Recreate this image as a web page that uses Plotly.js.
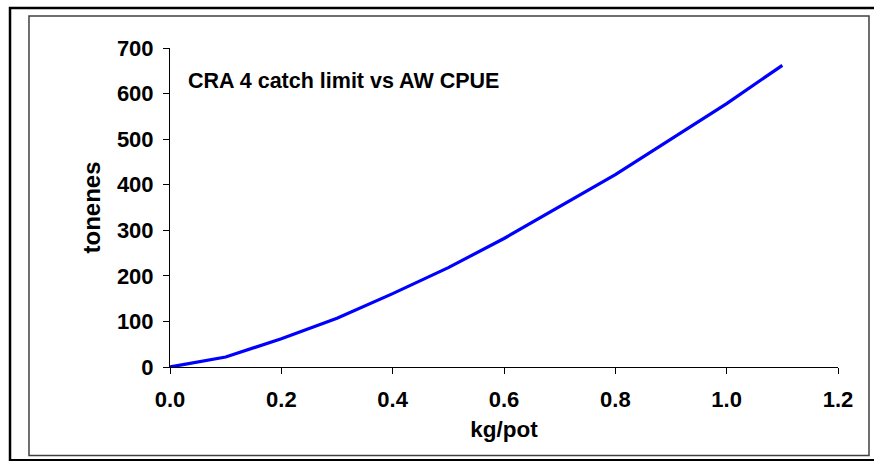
<!DOCTYPE html>
<html>
<head>
<meta charset="utf-8">
<script src="https://cdn.plot.ly/plotly-3.0.1.min.js"></script>
<style>html,body{margin:0;padding:0;background:#fff;}#chart{width:874px;height:461px;}</style>
</head>
<body>
<div id="chart"></div>
<script>
const kgPerPot = [0.0, 0.1, 0.2, 0.3, 0.4, 0.5, 0.6, 0.7, 0.8, 0.9, 1.0, 1.1];
const tonnes   = [0, 22, 62, 107, 161, 218, 282, 351, 422, 500, 578, 662];
const xTicks = [0, 0.2, 0.4, 0.6, 0.8, 1.0, 1.2];
const xTickText = ["0.0", "0.2", "0.4", "0.6", "0.8", "1.0", "1.2"];
const yTicks = [0, 100, 200, 300, 400, 500, 600, 700];
const chartTitle = "CRA 4 catch limit vs AW CPUE";

const fontFam = "Arial, 'Liberation Sans', sans-serif";
const trace = {
  x: kgPerPot, y: tonnes, type: 'scatter', mode: 'lines',
  line: {color: '#0000FF', width: 3.2}, hoverinfo: 'none'
};
const layout = {
  width: 874, height: 461,
  margin: {l: 170, r: 36, t: 48, b: 94.3, pad: 0},
  paper_bgcolor: '#ffffff', plot_bgcolor: '#ffffff',
  showlegend: false,
  font: {family: fontFam, size: 22, color: '#000', weight: 'bold'},
  xaxis: {
    range: [0, 1.2], tickvals: xTicks, ticktext: xTickText,
    showgrid: false, zeroline: false, showline: true, linecolor: '#000', linewidth: 1,
    ticks: 'outside', ticklen: 6, tickcolor: '#000', tickwidth: 1,
    tickfont: {family: fontFam, size: 22, color: '#000', weight: 'bold'},
    ticklabelstandoff: 7,
    title: {text: 'kg/pot', font: {family: fontFam, size: 22.5, color: '#000', weight: 'bold'}, standoff: 9}
  },
  yaxis: {
    range: [0, 700], tickvals: yTicks,
    showgrid: false, zeroline: false, showline: true, linecolor: '#000', linewidth: 1,
    ticks: 'outside', ticklen: 6, tickcolor: '#000', tickwidth: 1,
    tickfont: {family: fontFam, size: 22, color: '#000', weight: 'bold'},
    ticklabelstandoff: 5,
    title: {text: 'tonenes', font: {family: fontFam, size: 24, color: '#000', weight: 'bold'}, standoff: 9}
  },
  annotations: [{
    xref: 'paper', yref: 'paper', x: 0.024, y: 0.8964, xanchor: 'left', yanchor: 'middle',
    text: chartTitle, showarrow: false,
    font: {family: fontFam, size: 21.5, color: '#000', weight: 'bold'}
  }],
  shapes: [
    {type: 'rect', xref: 'paper', yref: 'paper', x0: -0.2395, x1: 1.2126, y0: -0.2927, y1: 1.1255,
     line: {color: '#000', width: 2.5}, layer: 'below'},
    {type: 'rect', xref: 'paper', yref: 'paper', x0: -0.2111, x1: 1.0464, y0: -0.2771, y1: 1.1004,
     line: {color: '#404040', width: 1.5}, layer: 'below'}
  ]
};
Plotly.newPlot('chart', [trace], layout, {staticPlot: true, displayModeBar: false});
</script>
</body>
</html>
